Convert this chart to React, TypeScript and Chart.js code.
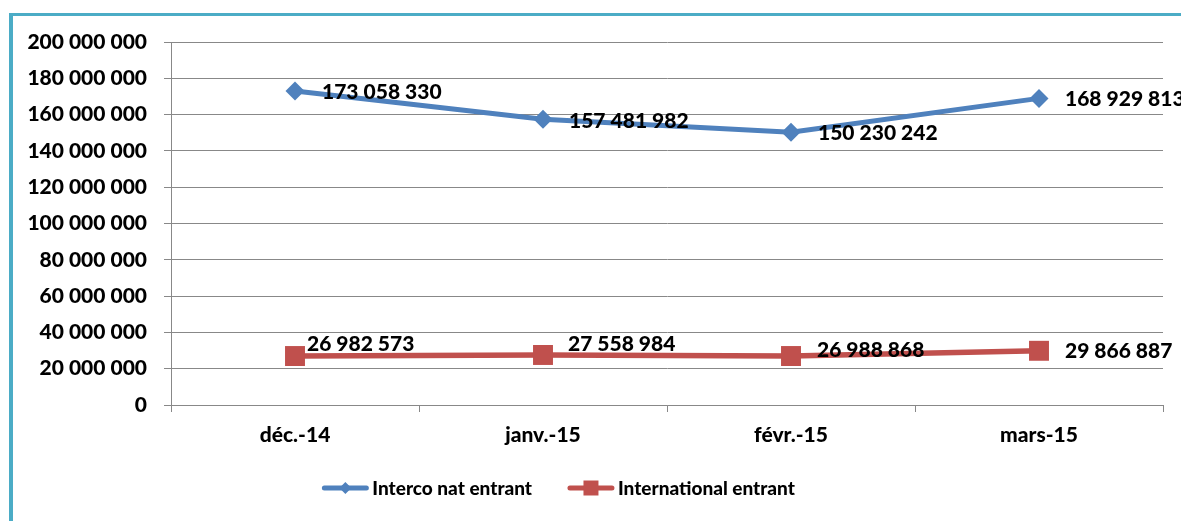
import React, { useEffect, useRef } from "react";
import { Chart, registerables } from "chart.js";

Chart.register(...registerables);

const categories = ["déc.-14", "janv.-15", "févr.-15", "mars-15"];
const seriesNames = ["Interco nat entrant", "International entrant"];
const intercoNatEntrant = [173058330, 157481982, 150230242, 168929813];
const internationalEntrant = [26982573, 27558984, 26988868, 29866887];
const yMin = 0;
const yMax = 200000000;
const yStep = 20000000;

const BLUE = "#4F81BD";
const RED = "#C0504D";
const FRAME = "#4BACC6";
const GRID = "#888888";
const FONT = "Lato";
const WEIGHT = "900";

function fmt(v: number): string {
  return Math.round(v).toString().replace(/\B(?=(\d{3})+(?!\d))/g, " ");
}

// per-point label offsets (Excel positioned labels)
const labelOffsets = [
  { dx: [27, 26, 27, 26], dy: [1, 2, 1, 1] },
  { dx: [12, 25, 26, 26], dy: [-12, -11, -6, 0] },
];

const valueLabelPlugin = {
  id: "valueLabels",
  afterDatasetsDraw(chart: any) {
    const ctx = chart.ctx;
    ctx.save();
    ctx.font = `${WEIGHT} 21px ${FONT}`;
    ctx.fillStyle = "#000000";
    ctx.textAlign = "left";
    ctx.textBaseline = "middle";
    chart.data.datasets.forEach((ds: any, di: number) => {
      const meta = chart.getDatasetMeta(di);
      meta.data.forEach((el: any, i: number) => {
        const off = labelOffsets[di];
        ctx.fillText(fmt(ds.data[i]), el.x + off.dx[i], el.y + off.dy[i]);
      });
    });
    ctx.restore();
  },
};

const customLegendPlugin = {
  id: "customLegend",
  afterDraw(chart: any) {
    const ctx = chart.ctx;
    ctx.save();
    ctx.font = `${WEIGHT} 19px ${FONT}`;
    const lineLen = 46;
    const gapText = 4;
    const gapItem = 36;
    const items = chart.data.datasets.map((ds: any) => ({
      label: ds.label,
      color: ds.borderColor,
      style: ds.pointStyle,
      w: ctx.measureText(ds.label).width,
    }));
    let total = 0;
    items.forEach((it: any, i: number) => {
      total += lineLen + gapText + it.w + (i < items.length - 1 ? gapItem : 0);
    });
    const cx = chart.width * 0.473;
    const y = 488;
    let x = cx - total / 2;
    items.forEach((it: any) => {
      ctx.strokeStyle = it.color;
      ctx.fillStyle = it.color;
      ctx.lineWidth = 5;
      ctx.lineCap = "round";
      ctx.beginPath();
      ctx.moveTo(x + 2, y);
      ctx.lineTo(x + lineLen - 2, y);
      ctx.stroke();
      const mx = x + lineLen / 2;
      ctx.beginPath();
      if (it.style === "rectRot") {
        const r = 6;
        ctx.moveTo(mx, y - r);
        ctx.lineTo(mx + r, y);
        ctx.lineTo(mx, y + r);
        ctx.lineTo(mx - r, y);
        ctx.closePath();
      } else {
        const h = 7.5;
        ctx.rect(mx - h, y - h, 2 * h, 2 * h);
      }
      ctx.fill();
      ctx.fillStyle = "#000000";
      ctx.textAlign = "left";
      ctx.textBaseline = "middle";
      ctx.fillText(it.label, x + lineLen + gapText, y + 1);
      x += lineLen + gapText + it.w + gapItem;
    });
    ctx.restore();
  },
};

export default function App() {
  const canvasRef = useRef<HTMLCanvasElement | null>(null);

  useEffect(() => {
    if (!canvasRef.current) return;
    const chart = new Chart(canvasRef.current, {
      type: "line",
      data: {
        labels: categories,
        datasets: [
          {
            label: seriesNames[0],
            data: intercoNatEntrant,
            borderColor: BLUE,
            backgroundColor: BLUE,
            borderWidth: 5,
            tension: 0,
            pointStyle: "rectRot",
            pointRadius: 9.5,
            pointBackgroundColor: BLUE,
            pointBorderColor: BLUE,
            pointBorderWidth: 0,
          },
          {
            label: seriesNames[1],
            data: internationalEntrant,
            borderColor: RED,
            backgroundColor: RED,
            borderWidth: 5.5,
            tension: 0,
            pointStyle: "rect",
            pointRadius: 14.1,
            pointBackgroundColor: RED,
            pointBorderColor: RED,
            pointBorderWidth: 0,
          },
        ],
      },
      options: {
        responsive: false,
        animation: false,
        layout: { padding: { left: 14, top: 42, right: 18, bottom: 0 } },
        plugins: {
          legend: { display: false },
          tooltip: { enabled: false },
          title: { display: false },
        },
        scales: {
          x: {
            type: "category",
            offset: true,
            grid: {
              offset: true,
              drawOnChartArea: false,
              drawTicks: true,
              tickLength: 7,
              color: GRID,
              lineWidth: 1,
            },
            border: { display: true, color: GRID, width: 1 },
            ticks: {
              color: "#000000",
              font: { family: FONT, size: 21, weight: WEIGHT },
              padding: 11,
              maxRotation: 0,
            },
            afterFit: (s: any) => {
              s.height = 116;
            },
          },
          y: {
            min: yMin,
            max: yMax,
            grid: {
              color: GRID,
              lineWidth: 1,
              drawTicks: true,
              tickLength: 7,
            },
            border: { display: true, color: GRID, width: 1 },
            ticks: {
              stepSize: yStep,
              color: "#000000",
              font: { family: FONT, size: 21, weight: WEIGHT },
              padding: 17,
              callback: (v: any) => fmt(Number(v)),
            },
            afterFit: (s: any) => {
              s.width = 157;
            },
          },
        },
      },
      plugins: [valueLabelPlugin, customLegendPlugin],
    });
    return () => chart.destroy();
  }, []);

  return (
    <div style={{ position: "fixed", left: 0, top: 0, width: 1181, height: 521, background: "#ffffff" }}>
      <div
        style={{
          position: "absolute",
          left: 9,
          top: 13,
          width: 1181 - 9,
          height: 521 - 13,
          boxSizing: "border-box",
          borderLeft: `4px solid ${FRAME}`,
          borderTop: `3px solid ${FRAME}`,
        }}
      />
      <canvas
        ref={canvasRef}
        width={1181}
        height={521}
        style={{ position: "absolute", left: 0, top: 0, width: 1181, height: 521 }}
      />
    </div>
  );
}
